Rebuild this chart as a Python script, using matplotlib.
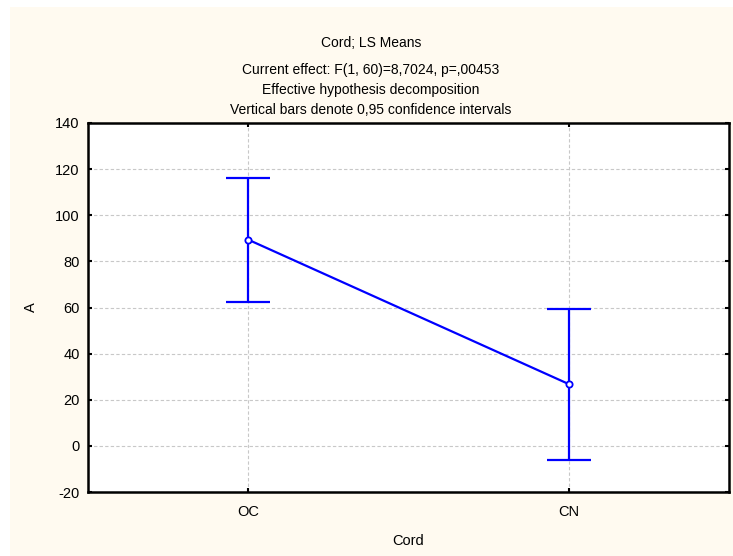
import matplotlib.pyplot as plt
from matplotlib.patches import Rectangle

categories = ["OC", "CN"]
means = [89.4, 26.8]
ci_low = [62.5, -6.1]
ci_high = [116.0, 59.3]
y_ticks = [-20, 0, 20, 40, 60, 80, 100, 120, 140]

title_lines = ["Current effect: F(1, 60)=8,7024, p=,00453",
               "Effective hypothesis decomposition",
               "Vertical bars denote 0,95 confidence intervals"]

plt.rcParams['font.family'] = ['Liberation Sans', 'DejaVu Sans']
plt.rcParams['axes.unicode_minus'] = False

fig = plt.figure(figsize=(7.33, 5.56), dpi=100)
fig.patch.set_facecolor('white')
# cream panel behind the chart
fig.patches.append(Rectangle((10 / 733, 0), 1, 1 - 7 / 556,
                             transform=fig.transFigure,
                             facecolor='#FFFAF0', edgecolor='none',
                             zorder=-1))

ax = fig.add_axes([88 / 733, 64 / 556, 641 / 733, 369 / 556])
ax.set_facecolor('white')

x = list(range(len(categories)))
yerr = [[m - lo for m, lo in zip(means, ci_low)],
        [hi - m for m, hi in zip(means, ci_high)]]

ax.errorbar(x, means, yerr=yerr, fmt='none', ecolor='#0000FF',
            elinewidth=1.6, capsize=16, capthick=1.6, zorder=3)
ax.plot(x, means, color='#0000FF', lw=1.6, marker='o', ms=4.5,
        mfc='white', mec='#0000FF', mew=1.3, zorder=4)

ax.set_xlim(-0.5, 1.5)
ax.set_ylim(-20, 140)
ax.set_xticks(x)
ax.set_xticklabels(categories)
ax.set_yticks(y_ticks)
ax.grid(True, color='#C8C8C8', linestyle=(0, (3, 2)), linewidth=0.8)
ax.set_axisbelow(True)

ax.tick_params(direction='in', length=3, width=1.5, top=True, right=True,
               labelsize=10.5, pad=6, color='black')
ax.tick_params(axis='x', pad=9)
for s in ax.spines.values():
    s.set_linewidth(1.8)
    s.set_color('black')

ax.set_xlabel("Cord", fontsize=10.5, labelpad=11)
ax.set_ylabel("A", fontsize=10.5, labelpad=12)

fig.text(371 / 733, 1 - 43 / 556, "Cord; LS Means", ha='center',
         va='center', fontsize=10)
for i, line in enumerate(title_lines):
    fig.text(371 / 733, 1 - (70 + 20 * i) / 556, line, ha='center',
             va='center', fontsize=10)

fig.savefig("out.png", dpi=100, facecolor=fig.get_facecolor())
